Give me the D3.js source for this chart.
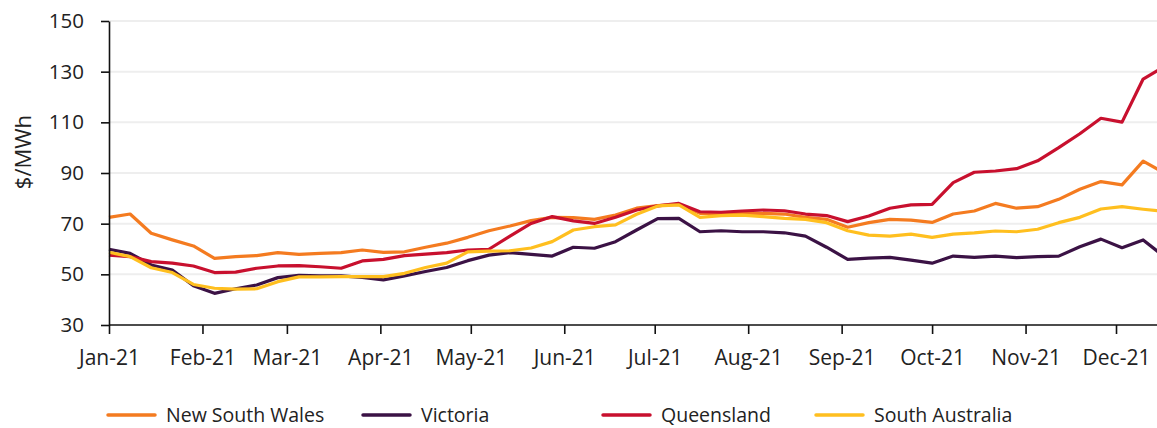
<!DOCTYPE html>
<html>
<head>
<meta charset="utf-8">
<script src="https://cdn.jsdelivr.net/npm/d3@7"></script>
<style>
  html, body { margin: 0; padding: 0; background: #fff; overflow: hidden; }
  svg { display: block; font-family: "Open Sans", sans-serif; }
</style>
</head>
<body>
<svg id="chart"></svg>
<script>
// weekly prices, $/MWh, first week starting 1 Jan 2021
const nsw = [72.5, 73.8, 66.2, 63.6, 61.2, 56.3, 57.0, 57.4, 58.6, 57.9,
  58.3, 58.6, 59.6, 58.7, 58.9, 60.7, 62.3, 64.6, 67.2, 69.1,
  71.2, 72.5, 72.4, 71.7, 73.4, 76.1, 77.1, 77.6, 74.1, 74.1,
  74.2, 74.1, 73.8, 72.5, 71.7, 68.6, 70.4, 71.7, 71.4, 70.5,
  73.8, 75.0, 78.0, 76.1, 76.7, 79.6, 83.6, 86.6, 85.3, 94.7, 90.0];
const vic = [59.9, 58.3, 53.7, 51.7, 45.5, 42.5, 44.3, 45.8, 48.7, 49.6,
  49.4, 49.4, 48.8, 47.8, 49.4, 51.1, 52.7, 55.4, 57.6, 58.6,
  57.9, 57.2, 60.7, 60.3, 62.9, 67.5, 72.0, 72.1, 66.8, 67.2,
  66.8, 66.8, 66.4, 65.1, 60.7, 55.9, 56.4, 56.7, 55.6, 54.4,
  57.2, 56.7, 57.2, 56.6, 57.0, 57.2, 60.9, 63.9, 60.5, 63.6, 57.0];
const qld = [57.6, 57.0, 55.0, 54.4, 53.3, 50.7, 50.9, 52.4, 53.3, 53.4,
  53.0, 52.4, 55.3, 55.9, 57.4, 58.0, 58.6, 59.6, 59.9, 65.1,
  70.1, 72.8, 71.1, 70.1, 72.5, 75.4, 77.0, 78.0, 74.7, 74.5,
  75.0, 75.4, 75.1, 73.8, 73.2, 70.8, 73.0, 76.1, 77.4, 77.6,
  86.2, 90.3, 90.8, 91.7, 94.8, 100.0, 105.5, 111.6, 110.1, 127.1, 132.0];
const sa = [58.7, 57.0, 52.6, 50.7, 46.0, 44.5, 44.2, 44.3, 47.1, 49.0,
  49.0, 49.1, 49.1, 49.1, 50.4, 52.7, 54.4, 58.9, 59.2, 59.3,
  60.4, 62.9, 67.5, 68.8, 69.5, 73.7, 77.0, 77.4, 72.5, 73.2,
  73.4, 72.8, 72.1, 71.7, 70.4, 67.2, 65.5, 65.1, 65.9, 64.6,
  65.9, 66.4, 67.1, 66.8, 67.8, 70.4, 72.5, 75.8, 76.7, 75.7, 74.8];

const seriesNames = ["New South Wales", "Victoria", "Queensland", "South Australia"];
const seriesValues = [nsw, vic, qld, sa];
const seriesColors = ["#f47b20", "#3b1245", "#c8102e", "#ffbf1f"];
const yTicks = [30, 50, 70, 90, 110, 130, 150];

const width = 1157, height = 428;
const plotLeft = 109, plotTop = 21, plotBottom = 325;

const weeks = d3.timeDay.range(new Date(2021, 0, 1), new Date(2021, 11, 18), 7);

const svg = d3.select("#chart").attr("width", width).attr("height", height);

const x = d3.scaleTime()
  .domain([new Date(2021, 0, 1), new Date(2021, 11, 31)])
  .range([plotLeft, plotLeft + 364 * 3.015]);
const y = d3.scaleLinear().domain([30, 150]).range([plotBottom, plotTop]);

// gridlines
svg.append("g")
  .selectAll("line")
  .data(yTicks.slice(1))
  .join("line")
  .attr("x1", plotLeft).attr("x2", width)
  .attr("y1", (d) => y(d)).attr("y2", (d) => y(d))
  .attr("stroke", "#eeeeee")
  .attr("stroke-width", 2);

// lines
const line = d3.line()
  .x((d, i) => x(weeks[i]))
  .y((d) => y(d));

svg.append("g")
  .selectAll("path")
  .data(seriesValues)
  .join("path")
  .attr("d", line)
  .attr("fill", "none")
  .attr("stroke", (d, i) => seriesColors[i])
  .attr("stroke-width", 3.2)
  .attr("stroke-linejoin", "round");

// axes
const yAxis = svg.append("g")
  .attr("transform", `translate(${plotLeft},0)`)
  .call(d3.axisLeft(y).tickValues(yTicks).tickSize(8).tickSizeOuter(0).tickPadding(17));

const xAxis = svg.append("g")
  .attr("transform", `translate(0,${plotBottom})`)
  .call(d3.axisBottom(x)
    .ticks(d3.timeMonth.every(1))
    .tickFormat(d3.timeFormat("%b-%y"))
    .tickSize(9).tickSizeOuter(0).tickPadding(16));

xAxis.select(".domain").attr("d", `M${plotLeft},0H${width}`);

[xAxis, yAxis].forEach((g) => {
  g.select(".domain").attr("stroke", "#111").attr("stroke-width", 1.6);
  g.selectAll(".tick line").attr("stroke", "#111").attr("stroke-width", 1.6);
  g.selectAll(".tick text")
    .attr("fill", "#222")
    .attr("font-family", "'Open Sans', sans-serif");
});
xAxis.selectAll(".tick text").attr("font-size", 21);
yAxis.selectAll(".tick text").attr("font-size", 20.5);

// y title
svg.append("text")
  .attr("transform", "translate(31,152) rotate(-90)")
  .attr("text-anchor", "middle")
  .attr("font-size", 22)
  .attr("fill", "#222")
  .text("$/MWh");

// legend
const legendX = [108, 363, 603, 816];
const legend = svg.append("g")
  .selectAll("g")
  .data(seriesNames)
  .join("g")
  .attr("transform", (d, i) => `translate(${legendX[i]},415)`);

legend.append("line")
  .attr("x1", 0).attr("x2", 47)
  .attr("stroke", (d, i) => seriesColors[i])
  .attr("stroke-width", 3.5)
  .attr("stroke-linecap", "round");

legend.append("text")
  .attr("x", 58)
  .attr("dy", "0.35em")
  .attr("font-size", 19.5)
  .attr("fill", "#222")
  .text((d) => d);
</script>
</body>
</html>
